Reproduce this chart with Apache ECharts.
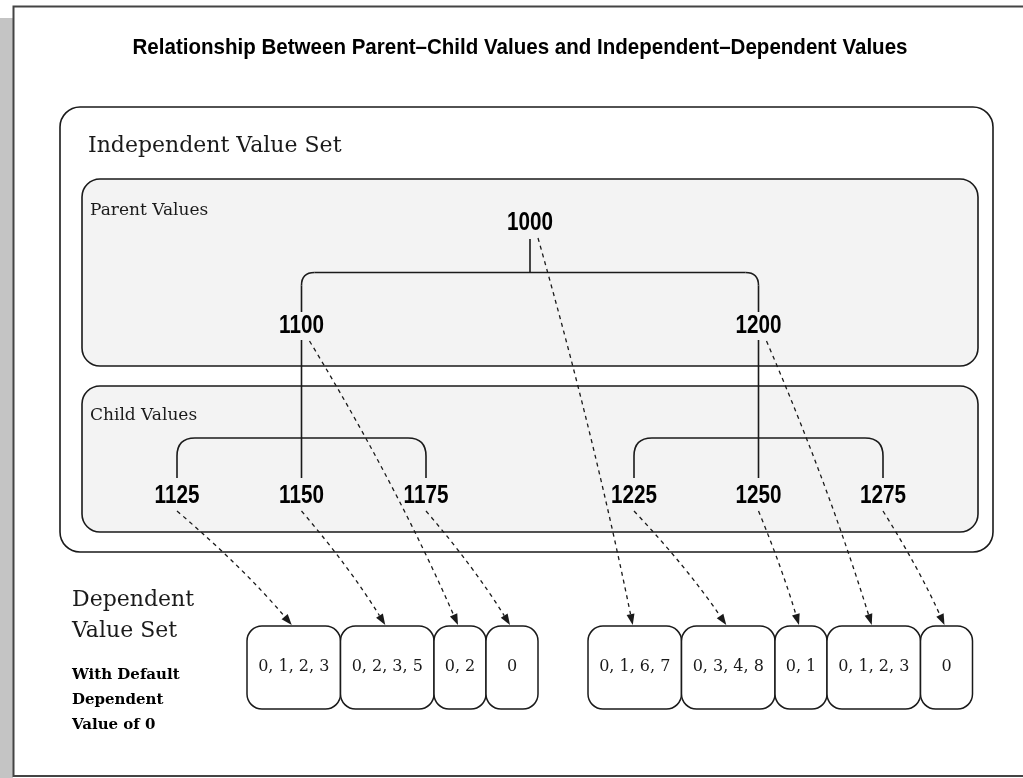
<!DOCTYPE html>
<html lang="en">
<head>
<meta charset="UTF-8">
<title>Parent-Child and Independent-Dependent Values</title>
<script src="https://cdn.jsdelivr.net/npm/echarts@6/dist/echarts.min.js"></script>
<style>
  html, body { margin: 0; background: #fff; }
  #chart { width: 1023px; height: 778px; }
</style>
</head>
<body>
<div id="chart"></div>
<script>
// data
const titleText = 'Relationship Between Parent\u2013Child Values and Independent\u2013Dependent Values';
const nodeCodes = ['1000', '1100', '1200', '1125', '1150', '1175', '1225', '1250', '1275'];
const nodeParents = [null, '1000', '1000', '1100', '1100', '1100', '1200', '1200', '1200'];
const dependentValues = ['0, 1, 6, 7', '0, 2', '0, 1, 2, 3', '0, 1, 2, 3', '0, 2, 3, 5', '0', '0, 3, 4, 8', '0, 1', '0'];
const dependentGroups = [['1125', '1150', '1100', '1175'], ['1000', '1225', '1250', '1200', '1275']];

// layout (diagram units, mapped 1:1 by the hidden axes)
const levelY = [221, 324, 494];
const leafStartX = [177, 634];
const leafStep = 124.5;
const setStartX = [247, 588];
const setTop = 626, setBottom = 709;

const sans = '"Liberation Sans", Arial, sans-serif';
const serif = '"DejaVu Serif", serif';
const ink = '#1a1a1a';

// the original uses a narrow bold face: squeeze Liberation Sans to the measured width
function squeeze(text, font, target) {
    const ctx = document.createElement('canvas').getContext('2d');
    ctx.font = font;
    return target / ctx.measureText(text).width;
}
const titleScale = squeeze(titleText, 'bold 22px "Liberation Sans"', 775);
const codeScale = squeeze('1000', 'bold 25px "Liberation Sans"', 46);

const childrenOf = code => nodeCodes.filter((c, i) => nodeParents[i] === code);
const root = nodeCodes[nodeParents.indexOf(null)];
const pos = {};
childrenOf(root).forEach((p, g) => {
    const kids = childrenOf(p);
    kids.forEach((k, i) => { pos[k] = [leafStartX[g] + i * leafStep, levelY[2]]; });
    pos[p] = [kids.reduce((s, k) => s + pos[k][0], 0) / kids.length, levelY[1]];
});
const parents = childrenOf(root);
pos[root] = [parents.reduce((s, p) => s + pos[p][0], 0) / parents.length, levelY[0]];
const branchCodes = nodeCodes.filter(c => childrenOf(c).length);

// dependent value set boxes, side by side per group
const setBoxes = [];
dependentGroups.forEach((group, g) => {
    let x = setStartX[g];
    group.forEach(code => {
        const text = dependentValues[nodeCodes.indexOf(code)];
        const w = text.split(',').length > 2 ? 93.5 : 52;
        setBoxes.push({ code, text, x0: x, x1: x + w });
        x += w;
    });
});

const chart = echarts.init(document.getElementById('chart'));

function seg(api, a, b) {
    const p = api.coord(a), q = api.coord(b);
    return { type: 'line', shape: { x1: p[0], y1: p[1], x2: q[0], y2: q[1] },
        style: { stroke: ink, lineWidth: 1.6 } };
}
function corner(api, a, c, b) {
    const p = api.coord(a), k = api.coord(c), q = api.coord(b);
    return { type: 'bezierCurve', shape: { x1: p[0], y1: p[1], cpx1: k[0], cpy1: k[1], x2: q[0], y2: q[1] },
        style: { stroke: ink, lineWidth: 1.6, fill: null } };
}
// horizontal bar with rounded ends dropping down to the outer children
function bracket(api, xl, xr, yBar, yEnd, r) {
    return [
        seg(api, [xl, yEnd], [xl, yBar + r]),
        corner(api, [xl, yBar + r], [xl, yBar], [xl + r, yBar]),
        seg(api, [xl + r, yBar], [xr - r, yBar]),
        corner(api, [xr - r, yBar], [xr, yBar], [xr, yBar + r]),
        seg(api, [xr, yBar + r], [xr, yEnd])
    ];
}

const option = {
    animation: false,
    grid: { left: 0, right: 0, top: 0, bottom: 0 },
    xAxis: { type: 'value', min: 0, max: 1023, show: false },
    yAxis: { type: 'value', min: 0, max: 778, inverse: true, show: false },
    graphic: [
        { type: 'rect', z: -10, shape: { x: 0, y: 18, width: 13, height: 760 }, style: { fill: '#c4c4c4' } },
        { type: 'rect', z: -9, shape: { x: 13.5, y: 6.5, width: 1020, height: 769.5 },
            style: { fill: '#fff', stroke: '#444', lineWidth: 2 } },
        { type: 'text', z: -8, x: 520, y: 48, scaleX: titleScale,
            style: { text: titleText, align: 'center', verticalAlign: 'middle',
                fontFamily: sans, fontWeight: 'bold', fontSize: 22, fill: '#000' } },
        { type: 'rect', z: -8, shape: { x: 60, y: 107, width: 933, height: 445, r: 20 },
            style: { fill: '#fff', stroke: ink, lineWidth: 1.6 } },
        { type: 'text', z: -7, style: { text: 'Independent Value Set', x: 88, y: 146, verticalAlign: 'middle',
            fontFamily: serif, fontSize: 22, fill: ink } },
        { type: 'rect', z: -7, shape: { x: 82, y: 179, width: 896, height: 187, r: 18 },
            style: { fill: '#f3f3f3', stroke: ink, lineWidth: 1.6 } },
        { type: 'text', z: -6, style: { text: 'Parent Values', x: 90, y: 211, verticalAlign: 'middle',
            fontFamily: serif, fontSize: 17, fill: ink } },
        { type: 'rect', z: -7, shape: { x: 82, y: 386, width: 896, height: 146, r: 18 },
            style: { fill: '#f3f3f3', stroke: ink, lineWidth: 1.6 } },
        { type: 'text', z: -6, style: { text: 'Child Values', x: 90, y: 416, verticalAlign: 'middle',
            fontFamily: serif, fontSize: 17, fill: ink } },
        { type: 'text', z: -6, style: { text: 'Dependent\nValue Set', x: 72, y: 585, lineHeight: 31,
            fontFamily: serif, fontSize: 22, fill: ink } },
        { type: 'text', z: -6, style: { text: 'With Default\nDependent\nValue of 0', x: 72, y: 663, lineHeight: 25,
            fontFamily: serif, fontWeight: 'bold', fontSize: 15, fill: '#000' } }
    ],
    series: [
        {
            name: 'hierarchy',
            type: 'custom',
            data: branchCodes.map(c => ({ name: c, value: pos[c] })),
            renderItem: (params, api) => {
                const code = branchCodes[params.dataIndex];
                const [x, y] = pos[code];
                const kids = childrenOf(code);
                const xs = kids.map(k => pos[k][0]);
                const ky = pos[kids[0]][1];
                const items = [];
                if (childrenOf(kids[0]).length === 0) {
                    items.push(seg(api, [x, y + 16], [x, ky - 16]));
                    items.push(...bracket(api, Math.min(...xs), Math.max(...xs), ky - 56, ky - 16, 18));
                } else {
                    items.push(seg(api, [x, y + 18], [x, (y + ky) / 2]));
                    items.push(...bracket(api, Math.min(...xs), Math.max(...xs), (y + ky) / 2, ky - 12, 13));
                }
                return { type: 'group', children: items };
            }
        },
        {
            name: 'dependency',
            type: 'custom',
            data: setBoxes.map(b => ({ name: b.code, value: pos[b.code] })),
            renderItem: (params, api) => {
                const b = setBoxes[params.dataIndex];
                const [nx, ny] = pos[b.code];
                const dx = childrenOf(b.code).length ? 8 : 0;
                const s = api.coord([nx + dx, ny + 17]);
                const e = api.coord([(b.x0 + b.x1) / 2 - 2, setTop - 1]);
                const c = [s[0] + 0.58 * (e[0] - s[0]), s[1] + 0.5 * (e[1] - s[1])];
                const ang = Math.atan2(e[1] - c[1], e[0] - c[0]);
                const L = 11, W = 4;
                const bx = e[0] - L * Math.cos(ang), by = e[1] - L * Math.sin(ang);
                const ox = -Math.sin(ang) * W, oy = Math.cos(ang) * W;
                return {
                    type: 'group',
                    children: [
                        { type: 'bezierCurve', shape: { x1: s[0], y1: s[1], cpx1: c[0], cpy1: c[1], x2: bx, y2: by },
                            style: { stroke: ink, lineWidth: 1.3, lineDash: [4, 4], fill: null } },
                        { type: 'polygon', shape: { points: [[e[0], e[1]], [bx + ox, by + oy], [bx - ox, by - oy]] },
                            style: { fill: ink } }
                    ]
                };
            }
        },
        {
            name: 'dependent sets',
            type: 'custom',
            data: setBoxes.map(b => ({ name: b.text, value: [b.x0, setTop, b.x1, setBottom] })),
            renderItem: (params, api) => {
                const p = api.coord([api.value(0), api.value(1)]);
                const q = api.coord([api.value(2), api.value(3)]);
                return {
                    type: 'group',
                    children: [
                        { type: 'rect', shape: { x: p[0], y: p[1], width: q[0] - p[0], height: q[1] - p[1], r: 15 },
                            style: { fill: '#fff', stroke: ink, lineWidth: 1.5 } },
                        { type: 'text', style: { text: setBoxes[params.dataIndex].text, x: (p[0] + q[0]) / 2, y: (p[1] + q[1]) / 2 - 1,
                            align: 'center', verticalAlign: 'middle', fontFamily: serif, fontSize: 16, fill: ink } }
                    ]
                };
            }
        },
        {
            name: 'values',
            type: 'custom',
            z: 5,
            data: nodeCodes.map(c => ({ name: c, value: pos[c] })),
            renderItem: (params, api) => {
                const p = api.coord([api.value(0), api.value(1)]);
                return {
                    type: 'text', x: p[0], y: p[1] + 2, scaleX: codeScale,
                    style: { text: nodeCodes[params.dataIndex], align: 'center', verticalAlign: 'middle',
                        fontFamily: sans, fontWeight: 'bold', fontSize: 25, fill: '#000' }
                };
            }
        }
    ]
};
chart.setOption(option);
</script>
</body>
</html>
